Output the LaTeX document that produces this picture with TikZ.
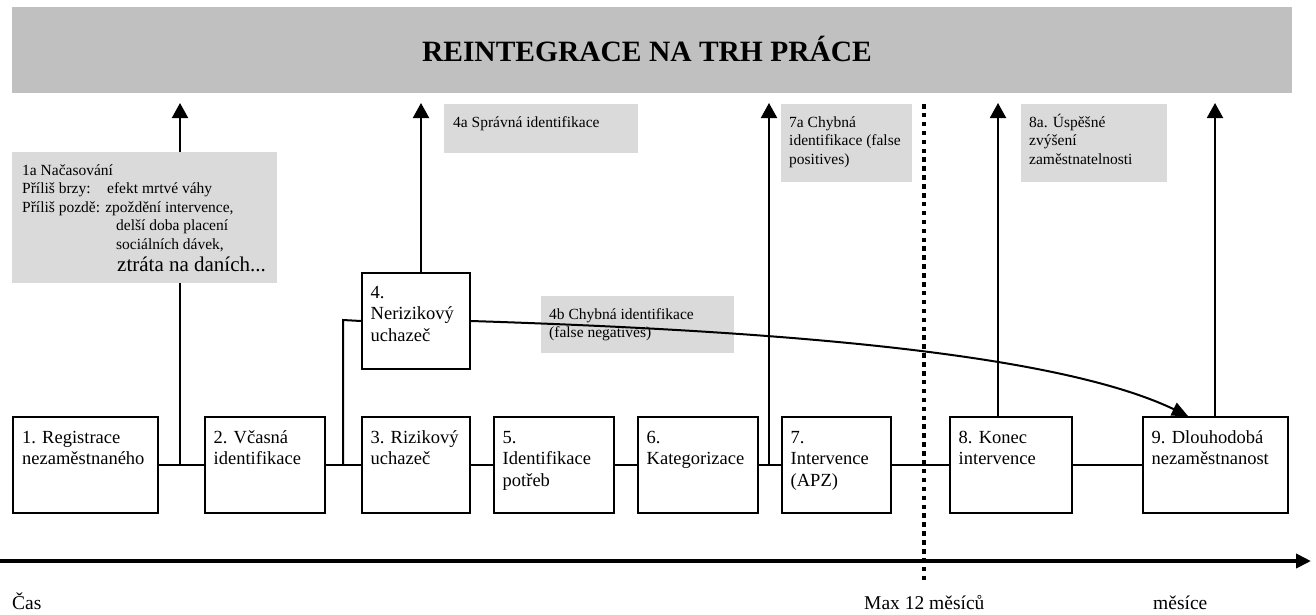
\documentclass[tikz,border=0pt]{standalone}
\usepackage{fontspec}
\setmainfont{Liberation Serif}
\usetikzlibrary{arrows.meta,calc}

\definecolor{bannergray}{HTML}{C0C0C0}
\definecolor{notegray}{HTML}{DADADA}

\newcommand{\stepstrut}{\rule{0pt}{18pt}}
\newcommand{\notestrut}{\rule{0pt}{17pt}}

\begin{document}
\begin{tikzpicture}[x=1pt,y=-1pt,
  stepbox/.style={draw, line width=2pt, inner sep=0pt, anchor=north west, minimum height=96pt},
  steptext/.style={anchor=north west, inner sep=0pt, align=left, font=\fontsize{18.5}{21.5}\selectfont},
  notebox/.style={fill=notegray, inner sep=0pt, anchor=north west},
  notetext/.style={anchor=north west, inner sep=0pt, align=left, font=\fontsize{15.5}{18.5}\selectfont},
  timelabel/.style={anchor=base west, inner sep=0pt, font=\fontsize{19.5}{22}\selectfont},
  link/.style={line width=2pt},
  up/.style={line width=2pt, -{Triangle[length=15pt,width=16pt]}},
]
\useasboundingbox (0,0) rectangle (1316,614);

% banner
\node[fill=bannergray, inner sep=0pt, minimum width=1280pt, minimum height=86pt, anchor=north west] (banner) at (12,7) {};
\node[anchor=base, inner sep=0pt, font=\bfseries\fontsize{29.5}{34}\selectfont] (title) at (647,61) {REINTEGRACE NA TRH PRÁCE};

% process steps
\node[stepbox, minimum width=145pt] (b1) at (12,416) {};
\node[stepbox, minimum width=120pt] (b2) at (204,416) {};
\node[stepbox, minimum width=108pt] (b3) at (361,416) {};
\node[stepbox, minimum width=108pt] (b4) at (361,272) {};
\node[stepbox, minimum width=120pt] (b5) at (493,416) {};
\node[stepbox, minimum width=120pt] (b6) at (637,416) {};
\node[stepbox, minimum width=109pt] (b7) at (781,416) {};
\node[stepbox, minimum width=122pt] (b8) at (949,416) {};
\node[stepbox, minimum width=145pt] (b9) at (1142,416) {};

\node[steptext] (t1) at ($(b1.north west)+(10,9)$) {\stepstrut 1. Registrace\\nezaměstnaného};
\node[steptext] (t2) at ($(b2.north west)+(9.5,9)$) {\stepstrut 2. Včasná\\identifikace};
\node[steptext] (t3) at ($(b3.north west)+(9.5,9)$) {\stepstrut 3. Rizikový\\uchazeč};
\node[steptext] (t4) at ($(b4.north west)+(9.5,8)$) {\stepstrut 4.\\Nerizikový\\uchazeč};
\node[steptext] (t5) at ($(b5.north west)+(9.5,9)$) {\stepstrut 5.\\Identifikace\\potřeb};
\node[steptext] (t6) at ($(b6.north west)+(9.5,9)$) {\stepstrut 6.\\Kategorizace};
\node[steptext] (t7) at ($(b7.north west)+(9.5,9)$) {\stepstrut 7.\\Intervence\\(APZ)};
\node[steptext] (t8) at ($(b8.north west)+(9.5,9)$) {\stepstrut 8. Konec\\intervence};
\node[steptext] (t9) at ($(b9.north west)+(9.5,9)$) {\stepstrut 9. Dlouhodobá\\nezaměstnanost};

% junctions on the main line and arrow tips at the banner
\coordinate (j1) at (180,465);
\coordinate (j2) at (343,465);
\coordinate (j3) at (769,465);
\coordinate (j4) at (343,320);
\coordinate (u1) at (180,103);
\coordinate (u4) at (421,103);
\coordinate (u7) at (769,103);
\coordinate (u8) at (998,103);
\coordinate (u9) at (1215,103);

% main line
\draw[link] (b1.east) -- (b2.west);
\draw[link] (b2.east) -- (b3.west);
\draw[link] (b3.east) -- (b5.west);
\draw[link] (b5.east) -- (b6.west);
\draw[link] (b6.east) -- (b7.west);
\draw[link] (b7.east) -- (b8.west);
\draw[link] (b8.east) -- (b9.west);
\draw[link] (j2) -- (j4) -- (b4.west);

% exits towards the labour market
\draw[up] (j1) -- (u1);
\draw[up] (b4.north -| u4) -- (u4);
\draw[up] (j3) -- (u7);
\draw[up] (b8.north -| u8) -- (u8);
\draw[up] (b9.north -| u9) -- (u9);

% notes
\node[notebox, minimum width=265pt, minimum height=131pt] (n1a) at (12,152) {};
\node[notetext] (n1at) at ($(n1a.north west)+(10,6)$) {\notestrut 1a Načasování\\
\makebox[85pt][l]{Příliš brzy:}efekt mrtvé váhy\\
Příliš pozdě: zpoždění intervence,\\
\hspace*{94pt}delší doba placení\\
\hspace*{94pt}sociálních dávek,\\[4pt]
\hspace*{95pt}{\fontsize{21}{23}\selectfont ztráta na daních...}};

\node[notebox, minimum width=194pt, minimum height=49pt] (n4a) at (444,104) {};
\node[notetext] (n4at) at ($(n4a.north west)+(9,6)$) {\notestrut 4a Správná identifikace};

\node[notebox, minimum width=193pt, minimum height=57pt] (n4b) at (541,296) {};
\node[notetext] (n4bt) at ($(n4b.north west)+(8,6)$) {\notestrut 4b Chybná identifikace\\(false negatives)};

\node[notebox, minimum width=131pt, minimum height=78pt] (n7a) at (781,104) {};
\node[notetext] (n7at) at ($(n7a.north west)+(8,6)$) {\notestrut 7a Chybná\\identifikace (false\\positives)};

\node[notebox, minimum width=146pt, minimum height=78pt] (n8a) at (1021,104) {};
\node[notetext] (n8at) at ($(n8a.north west)+(8,6)$) {\notestrut 8a. Úspěšné\\zvýšení\\zaměstnatelnosti};

% wrongly classified jobseekers drift into long-term unemployment
\coordinate (c9) at ($(b9.north west)+(46,0)$);
\draw[link, -{Triangle[length=16pt,width=14pt]}] (b4.east) .. controls (750,330) and (1050,350) .. (c9);

% time axis
\coordinate (ax0) at (0,561);
\coordinate (ax1) at (1311,561);
\draw[line width=4pt, -{Triangle[length=15pt,width=14pt]}] (ax0) -- (ax1);

% twelve-month limit
\coordinate (d0) at (924,104);
\coordinate (d1) at (924,582);
\draw[line width=4.5pt, dash pattern=on 4.5pt off 4.4pt] (d0) -- (d1);

\node[timelabel] (l0) at (12,609) {Čas};
\node[timelabel] (l1) at (864,609) {Max 12 měsíců};
\node[timelabel] (l2) at (1153,609) {měsíce};
\end{tikzpicture}
\end{document}
